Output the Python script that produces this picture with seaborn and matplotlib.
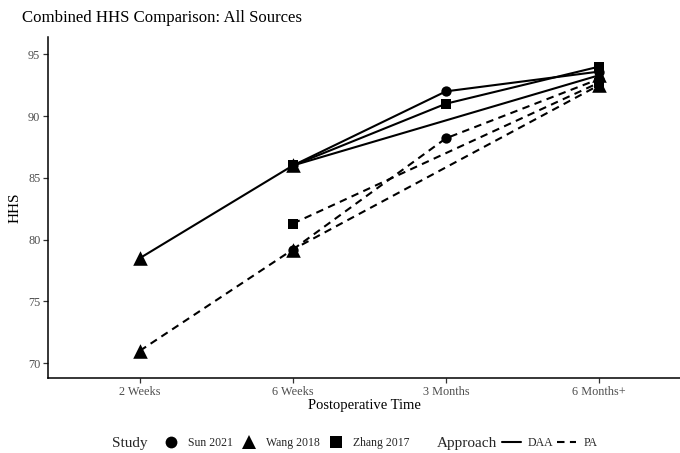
import numpy as np
import pandas as pd
import matplotlib
matplotlib.use("Agg")
import matplotlib.pyplot as plt
import seaborn as sns
from matplotlib.lines import Line2D

# Postoperative HHS by study and surgical approach
times = ["2 Weeks", "6 Weeks", "3 Months", "6 Months+"]
studies = ["Sun 2021", "Wang 2018", "Zhang 2017"]
approaches = ["DAA", "PA"]

sun_daa = [np.nan, 86.0, 92.0, 93.6]
sun_pa = [np.nan, 79.2, 88.2, 93.0]
wang_daa = [78.5, 86.0, np.nan, 93.3]
wang_pa = [71.0, 79.2, np.nan, 92.5]
zhang_daa = [np.nan, 86.0, 91.0, 94.0]
zhang_pa = [np.nan, 81.3, np.nan, 92.7]

y_ticks = [70, 75, 80, 85, 90, 95]

series = {
    ("Sun 2021", "DAA"): sun_daa,
    ("Sun 2021", "PA"): sun_pa,
    ("Zhang 2017", "DAA"): zhang_daa,
    ("Zhang 2017", "PA"): zhang_pa,
    ("Wang 2018", "DAA"): wang_daa,
    ("Wang 2018", "PA"): wang_pa,
}
rows = []
for (study, appr), vals in series.items():
    for t, v in zip(times, vals):
        if not np.isnan(v):
            rows.append({"Study": study, "Approach": appr, "Time": t, "HHS": v})
df = pd.DataFrame(rows)
df["pos"] = df["Time"].map({t: i for i, t in enumerate(times)})

sns.set_theme(style="ticks")
plt.rcParams["font.family"] = ["Liberation Serif", "DejaVu Serif"]

fig = plt.figure(figsize=(6.8, 4.53), dpi=100)
W, H = 680, 453
ax = fig.add_axes([48 / W, 1 - 378 / H, (680 - 48) / W, (378 - 37) / H])

dash_pa = (3.6, 2.6)
sns.lineplot(data=df, x="pos", y="HHS", units="Study", style="Approach",
             style_order=approaches, estimator=None, sort=True,
             dashes={"DAA": "", "PA": dash_pa}, color="black",
             linewidth=1.5, legend=False, ax=ax)

markers = {"Sun 2021": "o", "Wang 2018": "^", "Zhang 2017": "s"}
sizes = {"Sun 2021": 55, "Wang 2018": 110, "Zhang 2017": 55}
# Triangles go on top of the other markers
for i, study in enumerate(["Sun 2021", "Zhang 2017", "Wang 2018"]):
    sns.scatterplot(data=df[df["Study"] == study], x="pos", y="HHS",
                    marker=markers[study], color="black", s=sizes[study],
                    linewidth=0, legend=False, ax=ax, zorder=3 + i)

ax.set_xlim(-0.6, 3 + (680 - 599) / 153)
ax.set_ylim(68.8, 96.4)
ax.set_xticks(range(len(times)))
ax.set_xticklabels(times)
ax.set_yticks(y_ticks)
ax.set_xlabel("Postoperative Time", fontsize=10.5, color="black", labelpad=1)
ax.set_ylabel("HHS", fontsize=11, color="black", labelpad=5)
for s in ["top", "right"]:
    ax.spines[s].set_visible(False)
for s in ["left", "bottom"]:
    ax.spines[s].set_linewidth(1.1)
    ax.spines[s].set_color("black")
ax.tick_params(axis="both", length=3.5, width=0.9, color="#333333",
               labelsize=8.8, labelcolor="#4d4d4d", pad=2)

fig.text(22 / W, 1 - 18 / H, "Combined HHS Comparison: All Sources",
         fontsize=12.1, ha="left", va="center", color="black")

# Legends along the bottom
ly = 1 - 443 / H
fig.text(112 / W, ly, "Study", fontsize=11, ha="left", va="center")
fig.text(437 / W, ly, "Approach", fontsize=11, ha="left", va="center")

mk = dict(color="black", linestyle="none", markeredgewidth=0)
study_handles = [Line2D([], [], marker="o", markersize=8.5, **mk),
                 Line2D([], [], marker="^", markersize=10, **mk),
                 Line2D([], [], marker="s", markersize=8.5, **mk)]
leg1 = fig.legend(study_handles, studies, loc="center left",
                  bbox_to_anchor=(164 / W, ly), ncol=3, frameon=False,
                  fontsize=8.5, handlelength=1.2, handletextpad=0.85,
                  columnspacing=0.75, borderpad=0, borderaxespad=0)
appr_handles = [Line2D([], [], color="black", lw=1.5),
                Line2D([], [], color="black", lw=1.5, dashes=dash_pa)]
leg2 = fig.legend(appr_handles, approaches, loc="center left",
                  bbox_to_anchor=(502 / W, ly), ncol=2, frameon=False,
                  fontsize=8.5, handlelength=1.6, handletextpad=0.6,
                  columnspacing=0.3, borderpad=0, borderaxespad=0)

fig.savefig("out.png", dpi=100)
